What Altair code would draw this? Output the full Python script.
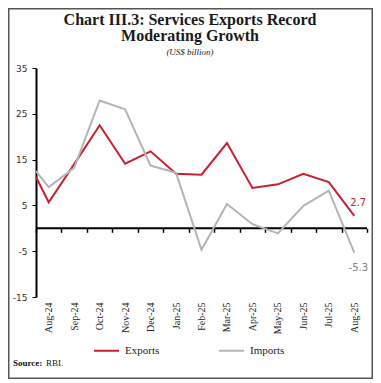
import json
import altair as alt
import pandas as pd

# ---- data ----
months = ["Aug-24", "Sep-24", "Oct-24", "Nov-24", "Dec-24", "Jan-25", "Feb-25",
          "Mar-25", "Apr-25", "May-25", "Jun-25", "Jul-25", "Aug-25"]
exports = [5.7, 14.0, 22.5, 14.1, 16.8, 11.9, 11.7, 18.6, 8.8, 9.6, 11.9, 10.1, 2.7]
imports = [9.0, 13.2, 27.9, 26.0, 13.7, 12.1, -4.7, 5.3, 0.9, -1.1, 4.9, 8.2, -5.3]
# lines start at the left edge of the plot (half a month before Aug-24)
start_exports = 11.2
start_imports = 12.5
series_names = ["Exports", "Imports"]
y_ticks = [-15, -5, 5, 15, 25, 35]

title_lines = ["Chart III.3: Services Exports Record", "Moderating Growth"]
subtitle = "(US$ billion)"

idx = [-0.5] + list(range(len(months)))
df = pd.DataFrame({
    "idx": idx * 2,
    "value": [start_exports] + exports + [start_imports] + imports,
    "series": [series_names[0]] * len(idx) + [series_names[1]] * len(idx),
})
last_idx = len(months) - 1

W, H = 331, 229
RED = "#C8202F"
GRAY = "#B4B4B4"
SERIF = "Liberation Serif"
SANS = "DejaVu Sans"

x_scale = alt.Scale(domain=[-0.5, last_idx + 0.5], nice=False, zero=False)
y_scale = alt.Scale(domain=[-15, 35], nice=False, zero=False)
label_expr = json.dumps(months) + "[round(datum.value)]"

base = alt.Chart(df)

lines = base.mark_line(strokeWidth=2).encode(
    x=alt.X("idx:Q", scale=x_scale,
            axis=alt.Axis(values=list(range(len(months))), labelExpr=label_expr,
                          labelAngle=-90, domain=False, ticks=False, grid=False,
                          labelPadding=5, labelFont=SERIF, labelFontSize=10,
                          labelColor="#222", title=None, orient="bottom")),
    y=alt.Y("value:Q", scale=y_scale,
            axis=alt.Axis(values=y_ticks, grid=False, domainColor="black",
                          domainWidth=2, tickColor="black", tickSize=4,
                          tickWidth=1, labelFont=SANS, labelFontSize=9,
                          labelExpr="toString(datum.value)",
                          labelColor="#333", labelPadding=5, title=None,
                          orient="left")),
    color=alt.Color("series:N",
                    scale=alt.Scale(domain=series_names, range=[RED, GRAY]),
                    legend=alt.Legend(orient="none", legendX=57, legendY=269,
                                      direction="horizontal", symbolType="stroke",
                                      symbolSize=625, symbolStrokeWidth=2,
                                      labelFont=SERIF, labelFontSize=11,
                                      labelColor="#222", columnPadding=55,
                                      labelOffset=5, padding=0, title=None)),
)

zero_line = alt.Chart(pd.DataFrame({"z": [0]})).mark_rule(color="black", strokeWidth=2).encode(
    x=alt.XDatum(-0.5, scale=x_scale,
                 axis=alt.Axis(orient="bottom", offset=-(H * 15 / 50),
                               values=[i - 0.5 for i in range(len(months) + 1)],
                               domain=False, ticks=True, tickColor="black",
                               tickSize=4, tickWidth=1.5, labels=False,
                               grid=False, title=None)),
    x2=alt.X2Datum(last_idx + 0.5),
    y=alt.YDatum(0, scale=y_scale, axis=None),
)

exp_label = base.transform_filter(
    f"datum.idx == {last_idx} && datum.series == '{series_names[0]}'"
).transform_calculate(lbl="toString(datum.value)").mark_text(
    font=SANS, fontSize=10, color=RED, dx=4, dy=-10, baseline="alphabetic").encode(
    x=alt.X("idx:Q", scale=x_scale, axis=None),
    y=alt.Y("value:Q", scale=y_scale, axis=None),
    text="lbl:N")

imp_label = base.transform_filter(
    f"datum.idx == {last_idx} && datum.series == '{series_names[1]}'"
).transform_calculate(lbl="toString(datum.value)").mark_text(
    font=SANS, fontSize=10, color="#808080", dx=4, dy=10, baseline="top").encode(
    x=alt.X("idx:Q", scale=x_scale, axis=None),
    y=alt.Y("value:Q", scale=y_scale, axis=None),
    text="lbl:N")


def text_layer(txt, x, y, **kw):
    return alt.Chart(pd.DataFrame({"t": [txt]})).mark_text(baseline="alphabetic", **kw).encode(
        text="t:N", x=alt.value(x), y=alt.value(y))


t1 = text_layer(title_lines[0], 154, -43, font=SERIF, fontSize=16, fontWeight="bold", color="#1a1a1a", align="center")
t2 = text_layer(title_lines[1], 154, -27, font=SERIF, fontSize=16, fontWeight="bold", color="#1a1a1a", align="center")
t3 = text_layer(subtitle, 154, -13.5, font=SERIF, fontSize=9, fontStyle="italic", color="#222", align="center")
s1 = text_layer("Source:", -23, 298, font=SERIF, fontSize=9, fontWeight="bold", color="#111", align="left")
s2 = text_layer("RBI.", 10, 298, font=SERIF, fontSize=9, color="#111", align="left")

frame = alt.Chart(pd.DataFrame({"f": [0]})).mark_rect(fillOpacity=0, stroke="#555", strokeWidth=1.5).encode(
    x=alt.value(-27.25), x2=alt.value(336.25), y=alt.value(-59.25), y2=alt.value(310.25))

chart = alt.layer(
    frame, zero_line, lines, exp_label, imp_label, t1, t2, t3, s1, s2
).resolve_axis(x="independent", y="independent").properties(
    width=W, height=H,
    autosize=alt.AutoSizeParams(type="none"),
    padding={"left": 28, "top": 60, "right": 6, "bottom": 82},
    background="white",
).configure_view(stroke=None)

chart.save("out.html", embed_options={"renderer": "svg", "actions": False})
